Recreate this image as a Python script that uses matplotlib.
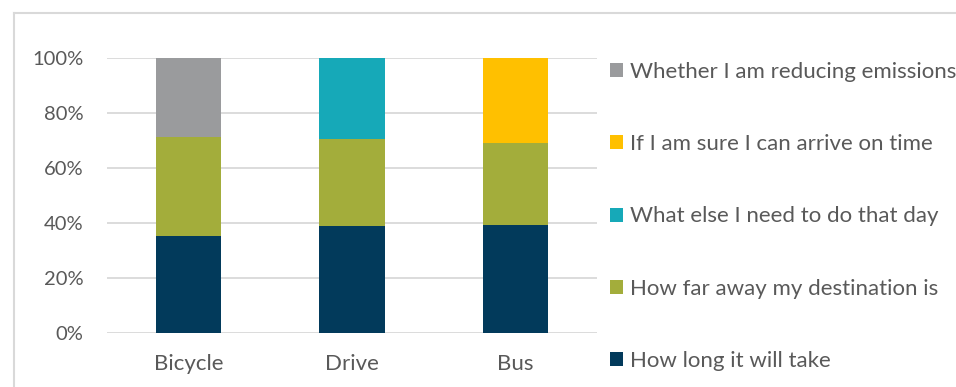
import matplotlib
matplotlib.use("Agg")
import matplotlib.pyplot as plt
from matplotlib.lines import Line2D
from matplotlib.ticker import PercentFormatter

categories = ["Bicycle", "Drive", "Bus"]
series_names = ["How long it will take", "How far away my destination is",
                "What else I need to do that day", "If I am sure I can arrive on time",
                "Whether I am reducing emissions"]
how_long = [0.353, 0.390, 0.393]
how_far = [0.359, 0.315, 0.298]
what_else = [0.0, 0.295, 0.0]
on_time = [0.0, 0.0, 0.309]
emissions = [0.288, 0.0, 0.0]
series_values = [how_long, how_far, what_else, on_time, emissions]
colors = ["#023A5B", "#A3AD3B", "#16A9B8", "#FFC000", "#9A9B9D"]
yticks = [0, 0.2, 0.4, 0.6, 0.8, 1.0]

plt.rcParams['font.family'] = ['Lato', 'DejaVu Sans']
W, H = 956, 387
fig = plt.figure(figsize=(W / 100, H / 100), dpi=100)
ax = fig.add_axes([107 / W, 1 - 332.7 / H, 490 / W, (332.7 - 58) / H])

x = list(range(len(categories)))
bottom = [0.0] * len(categories)
handles = []
for name, vals, c in zip(series_names, series_values, colors):
    b = ax.bar(x, vals, 0.4, bottom=bottom, color=c, label=name, zorder=3)
    handles.append(b)
    bottom = [bo + v for bo, v in zip(bottom, vals)]

ax.set_xlim(-0.5, 2.5)
ax.set_ylim(0, 1)
ax.set_yticks(yticks)
ax.yaxis.set_major_formatter(PercentFormatter(1.0, decimals=0))
ax.set_xticks(x)
ax.set_xticklabels(categories)
ax.grid(axis='y', color='#D9D9D9', linewidth=1.3, zorder=0)
for s in ax.spines.values():
    s.set_visible(False)
ax.tick_params(axis='both', length=0, colors='#595959')
ax.tick_params(axis='y', pad=17, labelsize=14.5)
ax.tick_params(axis='x', pad=15, labelsize=16)

leg = fig.legend(handles[::-1], series_names[::-1], loc='upper left',
                 bbox_to_anchor=(610 / W, 1 - 62 / H), frameon=False,
                 fontsize=16, handlelength=0.6, handleheight=0.6,
                 handletextpad=0.32, labelspacing=2.35, borderpad=0, borderaxespad=0)
for t in leg.get_texts():
    t.set_color('#595959')

fig.add_artist(Line2D([13.5 / W, 1], [1 - 12.5 / H] * 2, color='#D9D9D9', linewidth=1.5))
fig.add_artist(Line2D([13.5 / W] * 2, [0, 1 - 12.5 / H], color='#D9D9D9', linewidth=1.5))

fig.savefig("out.png", dpi=100)
